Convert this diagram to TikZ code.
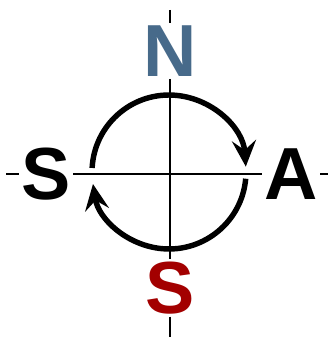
\documentclass[tikz,border=0pt]{standalone}
\usepackage{fontspec}
\setmainfont{Liberation Sans}
\usetikzlibrary{arrows.meta}
\definecolor{NSBlue}{HTML}{476A8A}
\definecolor{NSRed}{HTML}{A30000}

\begin{document}
\begin{tikzpicture}[x=0.02cm,y=0.02cm,
  axis/.style={line width=.75pt},
  pole/.style={fill=white,inner sep=1.2pt,font=\fontsize{42}{42}\selectfont\bfseries},
  turn/.style={line width=3.1pt,-{Stealth[length=5.2mm,width=4.8mm,inset=1.9mm]}}]
\path[use as bounding box] (0,0) rectangle (328,338);
\coordinate (top) at (170,328);
\coordinate (bot) at (170,1);
\coordinate (west) at (6,164);
\coordinate (east) at (328,164);
\coordinate (o) at (169,166);
\node[pole,text=NSBlue] (n) at (170,287) {N};
\node[pole,text=NSRed] (s) at (170,50) {S};
\node[pole] (w) at (46,164) {S};
\node[pole] (a) at (291,164) {A};
\draw[axis] (top) -- (n) -- (s) -- (bot);
\draw[axis] (west) -- (w) -- (a) -- (east);
\draw[turn] ([shift={(177:1.54cm)}]o) arc[start angle=177,end angle=4,radius=1.54cm];
\draw[turn] ([shift={(-5:1.54cm)}]o) arc[start angle=-5,end angle=-171,radius=1.54cm];
\end{tikzpicture}
\end{document}
